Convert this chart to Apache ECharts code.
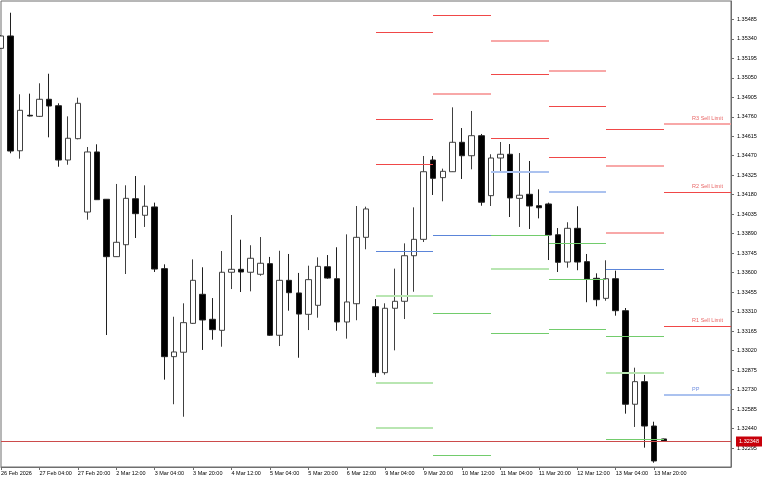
<!DOCTYPE html>
<html><head><meta charset="utf-8">
<script src="https://cdn.jsdelivr.net/npm/echarts@6/dist/echarts.min.js"></script>
<style>html,body{margin:0;padding:0;background:#fff}#c{width:768px;height:480px}</style>
</head><body><div id="c"></div>
<script>
// H4 bars
const categories = [
 '26 Feb 12:00','26 Feb 16:00','26 Feb 20:00',
 '27 Feb 00:00','27 Feb 04:00','27 Feb 08:00','27 Feb 12:00','27 Feb 16:00','27 Feb 20:00',
 '2 Mar 00:00','2 Mar 04:00','2 Mar 08:00','2 Mar 12:00','2 Mar 16:00','2 Mar 20:00',
 '3 Mar 00:00','3 Mar 04:00','3 Mar 08:00','3 Mar 12:00','3 Mar 16:00','3 Mar 20:00',
 '4 Mar 00:00','4 Mar 04:00','4 Mar 08:00','4 Mar 12:00','4 Mar 16:00','4 Mar 20:00',
 '5 Mar 00:00','5 Mar 04:00','5 Mar 08:00','5 Mar 12:00','5 Mar 16:00','5 Mar 20:00',
 '6 Mar 00:00','6 Mar 04:00','6 Mar 08:00','6 Mar 12:00','6 Mar 16:00','6 Mar 20:00',
 '9 Mar 00:00','9 Mar 04:00','9 Mar 08:00','9 Mar 12:00','9 Mar 16:00','9 Mar 20:00',
 '10 Mar 00:00','10 Mar 04:00','10 Mar 08:00','10 Mar 12:00','10 Mar 16:00','10 Mar 20:00',
 '11 Mar 00:00','11 Mar 04:00','11 Mar 08:00','11 Mar 12:00','11 Mar 16:00','11 Mar 20:00',
 '12 Mar 00:00','12 Mar 04:00','12 Mar 08:00','12 Mar 12:00','12 Mar 16:00','12 Mar 20:00',
 '13 Mar 00:00','13 Mar 04:00','13 Mar 08:00','13 Mar 12:00','13 Mar 16:00','13 Mar 20:00',
 '16 Mar 00:00',
 '+1','+2','+3','+4','+5','+6','+7'
];
const xTickLabels = ['26 Feb 2026','27 Feb 04:00','27 Feb 20:00','2 Mar 12:00','3 Mar 04:00','3 Mar 20:00',
 '4 Mar 12:00','5 Mar 04:00','5 Mar 20:00','6 Mar 12:00','9 Mar 04:00','9 Mar 20:00','10 Mar 12:00',
 '11 Mar 04:00','11 Mar 20:00','12 Mar 12:00','13 Mar 04:00','13 Mar 20:00'];
const yTicks = [1.35485,1.35340,1.35195,1.35050,1.34905,1.34760,1.34615,1.34470,1.34325,1.34180,1.34035,
 1.33890,1.33745,1.33600,1.33455,1.33310,1.33165,1.33020,1.32875,1.32730,1.32585,1.32440,1.32295];

const opens = [1.35269,1.35361,1.34507,1.34771,1.34763,1.34890,1.34842,1.34438,1.34597,1.34051,
 1.34498,1.34146,1.33719,1.33808,1.34150,1.34027,1.34089,1.33630,1.32975,1.33008,
 1.33223,1.33439,1.33253,1.33171,1.33603,1.33625,1.33603,1.33588,1.33667,1.33134,
 1.33543,1.33449,1.33290,1.33357,1.33644,1.33555,1.33233,1.33369,1.33863,1.33347,
 1.32856,1.33335,1.33387,1.33726,1.33848,1.34438,1.34307,1.34351,1.34570,1.34470,
 1.34619,1.34173,1.34453,1.34481,1.34153,1.34183,1.34098,1.34111,1.33882,1.33679,
 1.33930,1.33682,1.33558,1.33409,1.33555,1.33317,1.32621,1.32789,1.32459,1.32363];
const closes = [1.35361,1.34505,1.34808,1.34766,1.34890,1.34840,1.34438,1.34600,1.34860,1.34498,
 1.34143,1.33719,1.33826,1.34153,1.34039,1.34094,1.33627,1.32975,1.33010,1.33228,
 1.33543,1.33248,1.33176,1.33603,1.33625,1.33605,1.33707,1.33670,1.33134,1.33543,
 1.33451,1.33292,1.33548,1.33647,1.33560,1.33233,1.33382,1.33863,1.34074,1.32856,
 1.33335,1.33387,1.33726,1.33848,1.34351,1.34302,1.34354,1.34570,1.34470,1.34619,
 1.34124,1.34453,1.34481,1.34156,1.34176,1.34096,1.34083,1.33880,1.33677,1.33930,
 1.33679,1.33553,1.33399,1.33555,1.33317,1.32621,1.32789,1.32459,1.32199,1.32348];
const lows = [1.35264,1.34488,1.34448,1.34762,1.34758,1.34607,1.34388,1.34403,1.34592,1.33994,
 1.34141,1.33136,1.33717,1.33590,1.33858,1.33940,1.33605,1.32804,1.32621,1.32528,
 1.33218,1.33025,1.33101,1.33049,1.33478,1.33456,1.33461,1.33577,1.33129,1.33054,
 1.33317,1.32967,1.33173,1.33265,1.33555,1.33168,1.33109,1.33246,1.33774,1.32824,
 1.32841,1.33022,1.33255,1.33458,1.33828,1.34178,1.34131,1.34349,1.34297,1.34369,
 1.34098,1.34096,1.34354,1.34014,1.33940,1.33925,1.34004,1.33694,1.33605,1.33637,
 1.33618,1.33380,1.33350,1.33391,1.33280,1.32551,1.32452,1.32298,1.32186,1.32345];
const highs = [1.35368,1.35534,1.34927,1.34932,1.35009,1.35080,1.34860,1.34763,1.34902,1.34535,
 1.34555,1.34148,1.34260,1.34250,1.34319,1.34250,1.34121,1.33662,1.33272,1.33372,
 1.33699,1.33640,1.33411,1.33761,1.34029,1.33845,1.33804,1.33865,1.33717,1.33763,
 1.33739,1.33598,1.33652,1.33714,1.33731,1.33789,1.33885,1.34096,1.34091,1.33404,
 1.33372,1.33630,1.33818,1.34086,1.34468,1.34468,1.34374,1.34830,1.34676,1.34803,
 1.34632,1.34481,1.34572,1.34557,1.34490,1.34431,1.34220,1.34121,1.33932,1.33975,
 1.34094,1.33739,1.33595,1.33692,1.33615,1.33337,1.32893,1.32839,1.32491,1.32365];
const bidPrice = 1.32348;

// daily pivot levels (segments start/end bar index)
const segStart = [39, 45, 51, 57, 63, 69];
const segEnd   = [45, 51, 57, 63, 69, 76];
const R3 = [1.35388, 1.35517, 1.35324, 1.35103, 1.34667, 1.34708];
const R2 = [1.34743, 1.34932, 1.35078, 1.34838, 1.34396, 1.34198];
const R1 = [1.34408, null,    1.34602, 1.34461, 1.33895, 1.33201];
const PP = [1.33761, 1.33878, 1.34351, 1.34198, 1.33625, 1.32692];
const S1 = [1.33429, 1.33298, 1.33878, 1.33818, 1.33127, null];
const S2 = [1.32781, null,    1.33630, 1.33551, 1.32856, null];
const S3 = [1.32447, 1.32243, 1.33151, 1.33179, 1.32360, null];
const limitLabels = ['R3 Sell Limit', 'R2 Sell Limit', 'R1 Sell Limit', 'PP'];

// appearance (faint = anti-aliased look in reference)
const levelDefs = [
  {vals: R3, kind: 0, faint: [0,0,1,1,0,1]},
  {vals: R2, kind: 0, faint: [0,1,0,0,1,0]},
  {vals: R1, kind: 0, faint: [0,0,0,0,1,0]},
  {vals: PP, kind: 1, faint: [0,0,1,1,0,1]},
  {vals: S1, kind: 2, faint: [1,0,0,0,0,0]},
  {vals: S2, kind: 2, faint: [1,0,1,0,1,0]},
  {vals: S3, kind: 2, faint: [1,0,0,0,0,0]}
];
const solidColors = ['#f04848', '#5b85d9', '#72cc6c'];
const faintColors = ['#f8a8a8', '#abc2ef', '#b9e6b2'];
const textColors = ['#e23c3c', '#4f74d8'];

const candleData = opens.map((o, i) => [o, closes[i], lows[i], highs[i]]);
const levelData = [];
levelDefs.forEach(d => {
  d.vals.forEach((v, i) => {
    if (v !== null) levelData.push([segStart[i], segEnd[i], v, d.kind, d.faint[i]]);
  });
});
const labelRows = [
  [72, R3[5], 0, 0],
  [72, R2[5], 1, 0],
  [72, R1[5], 2, 0],
  [72, PP[5], 3, 1]
];

const FONT = 'Liberation Sans';
const chart = echarts.init(document.getElementById('c'), null, {renderer: 'canvas'});
const showTick = (i) => i % 4 === 0 && i <= 68;
chart.setOption({
  animation: false,
  backgroundColor: '#ffffff',
  grid: {left: 1, right: 37, top: 1, bottom: 13, show: true, borderColor: '#6e6e6e', borderWidth: 1,
         backgroundColor: 'transparent', outerBoundsMode: 'none', containLabel: false},
  xAxis: {
    type: 'category', data: categories, boundaryGap: false,
    axisLine: {show: true, lineStyle: {color: '#6e6e6e', width: 1}},
    axisTick: {show: true, interval: showTick, length: 3, lineStyle: {color: '#6e6e6e'}},
    axisLabel: {interval: showTick, formatter: (v, i) => xTickLabels[i / 4] || '', align: 'left',
                margin: 3, fontSize: 5.5, fontFamily: FONT, color: '#000', hideOverlap: false},
    splitLine: {show: false}
  },
  yAxis: {
    type: 'value', position: 'right', scale: true,
    min: 1.321541, max: 1.356212,
    axisLine: {show: true, lineStyle: {color: '#6e6e6e', width: 1}},
    axisTick: {show: true, length: 3, customValues: yTicks, lineStyle: {color: '#6e6e6e'}},
    axisLabel: {customValues: yTicks, formatter: v => v.toFixed(5), margin: 6,
                fontSize: 5.5, fontFamily: FONT, color: '#000'},
    splitLine: {show: false}
  },
  series: [
    {
      type: 'candlestick', data: candleData, barWidth: 6, clip: true,
      itemStyle: {color: '#ffffff', color0: '#000000', borderColor: '#404040', borderColor0: '#202020', borderWidth: 1}
    },
    {
      type: 'custom', data: levelData, z: 5, clip: true,
      encode: {x: [0, 1], y: 2},
      renderItem: (params, api) => {
        const p1 = api.coord([api.value(0), api.value(2)]);
        const p2 = api.coord([api.value(1), api.value(2)]);
        const kind = api.value(3), faint = api.value(4);
        const y = faint ? Math.round(p1[1]) : Math.round(p1[1]) + 0.5;
        return {type: 'line', shape: {x1: Math.round(p1[0]), y1: y, x2: Math.round(p2[0]), y2: y},
                style: {stroke: faint ? faintColors[kind] : solidColors[kind], lineWidth: faint ? 2 : 1}};
      }
    },
    {
      type: 'scatter', z: 6, symbolSize: 1,
      data: labelRows.map(r => ({value: [r[0], r[1]], name: limitLabels[r[2]],
             label: {color: textColors[r[3]]}})),
      itemStyle: {color: 'transparent'},
      label: {show: true, position: [0, -5], align: 'left', verticalAlign: 'middle',
              formatter: p => p.name, fontSize: 5.5, fontFamily: FONT}
    },
    {
      // bid (current price) line with price box on the axis
      type: 'custom', z: 8, clip: false,
      data: [[0, 76, bidPrice]],
      encode: {x: [0, 1], y: 2},
      renderItem: (params, api) => {
        const p1 = api.coord([api.value(0), api.value(2)]);
        const p2 = api.coord([api.value(1), api.value(2)]);
        const y = Math.round(p1[1]) + 0.5;
        return {type: 'group', children: [
          {type: 'line', shape: {x1: p1[0], y1: y, x2: p2[0], y2: y},
           style: {stroke: '#cc4b4b', lineWidth: 1}},
          {type: 'rect', shape: {x: p2[0] + 5, y: y - 5, width: 26, height: 10},
           style: {fill: '#c8000a'}},
          {type: 'text', x: p2[0] + 18, y: y,
           style: {text: api.value(2).toFixed(5), fill: '#ffffff', fontSize: 5.5, fontFamily: FONT,
                   align: 'center', verticalAlign: 'middle'}}
        ]};
      }
    }
  ]
});
</script></body></html>
